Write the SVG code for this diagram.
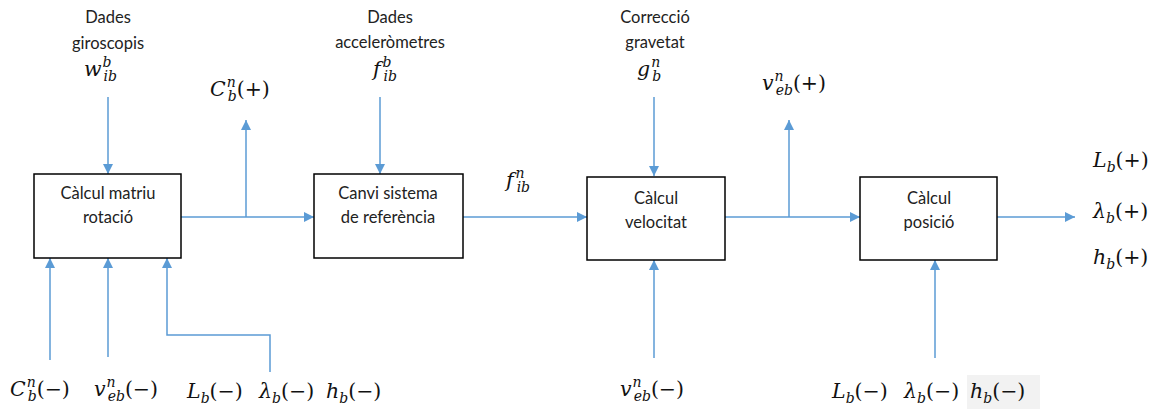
<svg xmlns="http://www.w3.org/2000/svg" width="1163" height="412" viewBox="0 0 1163 412">
<style>
.box{fill:#fff;stroke:#000;stroke-width:1.5}
.lbl{font-family:Lato,"Open Sans","Liberation Sans",sans-serif;font-size:16.5px;fill:#222;text-anchor:middle}
.m{font-family:"DejaVu Serif","Liberation Serif",serif;font-style:italic;font-size:20.5px;fill:#111}
.u{font-family:"DejaVu Serif","Liberation Serif",serif;font-style:normal;font-size:20.5px;fill:#111}
.s{font-size:14px}
.c line,.c polyline{stroke:#5B9BD5;stroke-width:1.5;fill:none}
</style>
<defs>
<marker id="ah" viewBox="0 0 10 10" refX="10" refY="5" markerWidth="10" markerHeight="10" markerUnits="userSpaceOnUse" orient="auto">
<path d="M0,0 L10,5 L0,10 z" fill="#5B9BD5"/>
</marker>
</defs>
<rect x="967" y="375" width="73" height="34" fill="#f2f2f2"/>
<g id="connectors" class="c">
<line x1="108" y1="97" x2="108" y2="174" marker-end="url(#ah)"/>
<line x1="380" y1="97" x2="380" y2="174" marker-end="url(#ah)"/>
<line x1="654" y1="97" x2="654" y2="176" marker-end="url(#ah)"/>
<line x1="181" y1="217" x2="314" y2="217" marker-end="url(#ah)"/>
<line x1="246" y1="217" x2="246" y2="120" marker-end="url(#ah)"/>
<line x1="463" y1="217" x2="587" y2="217" marker-end="url(#ah)"/>
<line x1="725" y1="217" x2="860" y2="217" marker-end="url(#ah)"/>
<line x1="789" y1="217" x2="789" y2="120" marker-end="url(#ah)"/>
<line x1="997" y1="217" x2="1075" y2="217" marker-end="url(#ah)"/>
<line x1="50" y1="360" x2="50" y2="258" marker-end="url(#ah)"/>
<line x1="108" y1="357" x2="108" y2="258" marker-end="url(#ah)"/>
<polyline points="270,372 270,335 167,335 167,258" marker-end="url(#ah)"/>
<line x1="654" y1="358" x2="654" y2="260" marker-end="url(#ah)"/>
<line x1="935" y1="358" x2="935" y2="260" marker-end="url(#ah)"/>
</g>
<g id="n1"><rect class="box" x="34" y="174" width="147" height="84"/><text class="lbl" x="108" y="199">Càlcul matriu</text><text class="lbl" x="108" y="223">rotació</text></g>
<g id="n2"><rect class="box" x="314" y="174" width="149" height="84"/><text class="lbl" x="388" y="199">Canvi sistema</text><text class="lbl" x="388" y="223">de referència</text></g>
<g id="n3"><rect class="box" x="587" y="177" width="138" height="83"/><text class="lbl" x="656" y="204">Càlcul</text><text class="lbl" x="656" y="228">velocitat</text></g>
<g id="n4"><rect class="box" x="860" y="177" width="137" height="83"/><text class="lbl" x="929" y="204">Càlcul</text><text class="lbl" x="929" y="228">posició</text></g>
<g id="labels">
<text class="lbl" x="108" y="23">Dades</text><text class="lbl" x="108" y="49">giroscopis</text>
<text class="m" x="84" y="76">w<tspan class="s" dx="1" dy="-9">b</tspan><tspan class="s" dx="-8" dy="14">ib</tspan></text>
<text class="lbl" x="390" y="23">Dades</text><text class="lbl" x="390" y="48">acceleròmetres</text>
<text class="m" x="373" y="76">f<tspan class="s" dx="2" dy="-9">b</tspan><tspan class="s" dx="-8" dy="14">ib</tspan></text>
<text class="lbl" x="655" y="23">Correcció</text><text class="lbl" x="655" y="48">gravetat</text>
<text class="m" x="637" y="76">g<tspan class="s" dx="1" dy="-9">n</tspan><tspan class="s" dx="-8" dy="14">b</tspan></text>
<text class="m" x="210" y="96">C<tspan class="s" dx="1" dy="-9">n</tspan><tspan class="s" dx="-8" dy="14">b</tspan><tspan class="u" dy="-5">(+)</tspan></text>
<text class="m" x="506" y="187">f<tspan class="s" dx="2" dy="-9">n</tspan><tspan class="s" dx="-8" dy="14">ib</tspan></text>
<text class="m" x="762" y="90">v<tspan class="s" dx="1" dy="-9">n</tspan><tspan class="s" dx="-8" dy="14">eb</tspan><tspan class="u" dy="-5">(+)</tspan></text>
<text class="m" x="1093" y="167">L<tspan class="s" dy="5">b</tspan><tspan class="u" dy="-5">(+)</tspan></text>
<text class="m" x="1093" y="218">λ<tspan class="s" dy="5">b</tspan><tspan class="u" dy="-5">(+)</tspan></text>
<text class="m" x="1093" y="264">h<tspan class="s" dy="5">b</tspan><tspan class="u" dy="-5">(+)</tspan></text>
<text class="m" x="10" y="396">C<tspan class="s" dx="1" dy="-9">n</tspan><tspan class="s" dx="-8" dy="14">b</tspan><tspan class="u" dy="-5">(−)</tspan></text>
<text class="m" x="94" y="396">v<tspan class="s" dx="1" dy="-9">n</tspan><tspan class="s" dx="-8" dy="14">eb</tspan><tspan class="u" dy="-5">(−)</tspan></text>
<text class="m" x="187" y="398">L<tspan class="s" dy="5">b</tspan><tspan class="u" dy="-5">(−)</tspan></text>
<text class="m" x="259" y="398">λ<tspan class="s" dy="5">b</tspan><tspan class="u" dy="-5">(−)</tspan></text>
<text class="m" x="326" y="398">h<tspan class="s" dy="5">b</tspan><tspan class="u" dy="-5">(−)</tspan></text>
<text class="m" x="620" y="396">v<tspan class="s" dx="1" dy="-9">n</tspan><tspan class="s" dx="-8" dy="14">eb</tspan><tspan class="u" dy="-5">(−)</tspan></text>
<text class="m" x="832" y="398">L<tspan class="s" dy="5">b</tspan><tspan class="u" dy="-5">(−)</tspan></text>
<text class="m" x="904" y="398">λ<tspan class="s" dy="5">b</tspan><tspan class="u" dy="-5">(−)</tspan></text>
<text class="m" x="970" y="398">h<tspan class="s" dy="5">b</tspan><tspan class="u" dy="-5">(−)</tspan></text>
</g>
</svg>
